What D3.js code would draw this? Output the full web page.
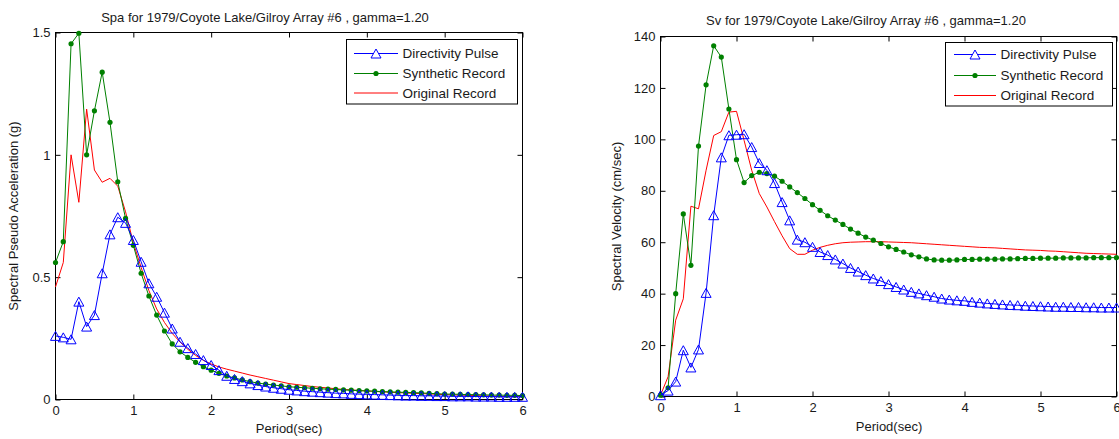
<!DOCTYPE html>
<html>
<head>
<meta charset="utf-8">
<script src="https://cdn.jsdelivr.net/npm/d3@7"></script>
<style>
  html, body { margin: 0; padding: 0; background: #fff; }
  svg { display: block; }
  text { font-family: "Liberation Sans", Arial, Helvetica, sans-serif; fill: #1a1a1a; }
</style>
</head>
<body>
<svg id="fig" width="1119" height="439"></svg>
<script>
// Periods (sec) at which the spectra are sampled
const periods = [
  0.0,0.1,0.2,0.3,0.4,0.5,0.6,0.7,0.8,0.9,
  1.0,1.1,1.2,1.3,1.4,1.5,1.6,1.7,1.8,1.9,
  2.0,2.1,2.2,2.3,2.4,2.5,2.6,2.7,2.8,2.9,
  3.0,3.1,3.2,3.3,3.4,3.5,3.6,3.7,3.8,3.9,
  4.0,4.1,4.2,4.3,4.4,4.5,4.6,4.7,4.8,4.9,
  5.0,5.1,5.2,5.3,5.4,5.5,5.6,5.7,5.8,5.9,6.0
];

// Spectral pseudo acceleration (g)
const spaPulse = [
  0.26,0.254,0.246,0.40,0.298,0.345,0.516,0.675,0.745,0.722,
  0.652,0.563,0.475,0.42,0.355,0.29,0.236,0.21,0.186,0.161,
  0.141,0.12,0.097,0.084,0.075,0.066,0.059,0.053,0.048,0.044,
  0.040,0.037,0.034,0.032,0.030,0.028,0.026,0.025,0.023,0.022,
  0.021,0.020,0.019,0.018,0.017,0.016,0.016,0.015,0.015,0.014,
  0.014,0.013,0.013,0.013,0.012,0.012,0.012,0.011,0.011,0.011,0.011
];
const spaSynthetic = [
  0.56,0.645,1.454,1.497,1.0,1.18,1.338,1.133,0.89,0.74,
  0.63,0.516,0.423,0.345,0.28,0.227,0.195,0.172,0.152,0.134,
  0.12,0.107,0.096,0.088,0.08,0.073,0.067,0.063,0.059,0.056,
  0.052,0.050,0.048,0.046,0.044,0.042,0.041,0.039,0.038,0.036,
  0.035,0.034,0.032,0.031,0.030,0.029,0.028,0.027,0.025,0.024,
  0.022,0.022,0.021,0.020,0.020,0.019,0.018,0.018,0.017,0.017,0.016
];
const spaOriginal = [
  0.46,0.56,1.0,0.806,1.187,0.938,0.888,0.904,0.872,0.767,
  0.64,0.54,0.445,0.37,0.315,0.27,0.235,0.205,0.18,0.16,
  0.145,0.133,0.124,0.116,0.108,0.1,0.093,0.086,0.079,0.072,
  0.065,0.061,0.057,0.053,0.050,0.047,0.044,0.041,0.039,0.037,
  0.035,0.033,0.031,0.030,0.028,0.027,0.025,0.024,0.023,0.021,
  0.020,0.019,0.018,0.017,0.016,0.015,0.014,0.013,0.012,0.012,0.011
];

// Spectral velocity (cm/sec)
const svPulse = [
  0.5,2.3,5.8,18,11.3,18.3,40.3,70.5,93,101.6,
  101.8,102,97,90.8,88,83,75.6,68.5,61,60,
  58.2,56.2,55,53.3,51.7,50,48.6,47.2,45.9,44.9,
  43.7,42.6,41.6,40.7,40.1,39.4,38.8,38.1,37.7,37.4,
  37.2,36.8,36.5,36.2,36,35.8,35.6,35.5,35.3,35.2,
  35.1,35,34.9,34.9,34.8,34.8,34.7,34.7,34.6,34.6,34.6
];
const svSynthetic = [
  0.5,3.4,40,71,51,97.4,121.2,136.4,132,111.8,
  92.1,83.2,85.9,87.2,86.7,85.7,83.7,81.5,79.3,77,
  74.6,72.4,70.3,68.6,66.9,65.1,63.5,62,60.8,59.5,
  58.2,57.2,56.2,55.1,54.3,53.5,53.1,53.0,53.0,53.1,
  53.3,53.3,53.4,53.4,53.4,53.5,53.5,53.6,53.7,53.7,
  53.8,53.8,53.8,53.9,53.9,53.9,53.9,54,54,54,54
];
const svOriginal = [
  0.5,7.7,29.7,38,74,73,88,101.5,103,110.6,
  110.9,99.6,88,78.9,73.7,68,62.5,57.5,55.3,55.3,
  56.9,58,58.8,59.4,59.8,60,60.1,60.2,60.2,60.2,
  60.1,60,59.9,59.8,59.6,59.4,59.2,59,58.8,58.6,
  58.4,58.2,58,57.9,57.8,57.6,57.4,57.2,57,56.9,
  56.8,56.6,56.5,56.3,56.1,55.9,55.7,55.6,55.5,55.4,55.3
];

const xTicks = [0,1,2,3,4,5,6];
const spaTicks = [0,0.5,1,1.5];
const spaTickLabels = ["0","0.5","1","1.5"];
const svTicks = [0,20,40,60,80,100,120,140];
const svTickLabels = ["0","20","40","60","80","100","120","140"];
const seriesNames = ["Directivity Pulse","Synthetic Record","Original Record"];
const seriesColors = ["#0000ff","#008000","#ff0000"];

const svg = d3.select("#fig");
const triPath = "M0,-4.5L5,4.5L-5,4.5Z";

function panel(o) {
  const x = d3.scaleLinear().domain([0, 6]).range([o.left, o.right]);
  const y = d3.scaleLinear().domain(o.yDomain).range([o.bottom, o.top]);
  const g = svg.append("g");
  const tick = 5;

  // box
  g.append("rect")
    .attr("x", o.left).attr("y", o.top)
    .attr("width", o.right - o.left).attr("height", o.bottom - o.top)
    .attr("fill", "none").attr("stroke", "#000").attr("stroke-width", 1);

  // inward ticks on all four sides
  const axB = d3.axisBottom(x).tickValues(xTicks).tickSize(-tick).tickPadding(6).tickFormat(d3.format("d"));
  const axT = d3.axisTop(x).tickValues(xTicks).tickSize(-tick).tickFormat("");
  const axL = d3.axisLeft(y).tickValues(o.yTicks).tickSize(-tick).tickPadding(5)
    .tickFormat((d, i) => o.yTickLabels[i]);
  const axR = d3.axisRight(y).tickValues(o.yTicks).tickSize(-tick).tickFormat("");
  [[axB, `translate(0,${o.bottom})`], [axT, `translate(0,${o.top})`],
   [axL, `translate(${o.left},0)`], [axR, `translate(${o.right},0)`]].forEach(([ax, tr]) => {
    const a = g.append("g").attr("transform", tr).call(ax);
    a.select(".domain").remove();
    a.selectAll("line").attr("stroke", "#000");
    a.selectAll("text").attr("font-size", 13).attr("fill", "#1a1a1a")
      .style("font-family", "'Liberation Sans', Arial, sans-serif");
  });

  const line = d3.line().x((d, i) => x(periods[i])).y(d => y(d));
  const series = [o.pulse, o.synthetic, o.original];

  // original record: plain line
  g.append("path").datum(series[2]).attr("d", line)
    .attr("fill", "none").attr("stroke", seriesColors[2]).attr("stroke-width", 1);
  // synthetic record: line with dots
  g.append("path").datum(series[1]).attr("d", line)
    .attr("fill", "none").attr("stroke", seriesColors[1]).attr("stroke-width", 1);
  g.append("g").selectAll("circle").data(series[1]).join("circle")
    .attr("cx", (d, i) => x(periods[i])).attr("cy", d => y(d)).attr("r", 2.6)
    .attr("fill", seriesColors[1]);
  // directivity pulse: line with open triangles
  g.append("path").datum(series[0]).attr("d", line)
    .attr("fill", "none").attr("stroke", seriesColors[0]).attr("stroke-width", 1);
  g.append("g").selectAll("path").data(series[0]).join("path")
    .attr("d", triPath)
    .attr("transform", (d, i) => `translate(${x(periods[i])},${y(d)})`)
    .attr("fill", "none").attr("stroke", seriesColors[0]).attr("stroke-width", 1);

  // labels
  g.append("text").attr("x", o.titleX).attr("y", o.titleY).attr("text-anchor", "middle")
    .attr("font-size", 13).text(o.title);
  g.append("text").attr("x", o.xLabelX).attr("y", o.xLabelY).attr("text-anchor", "middle")
    .attr("font-size", 13).text("Period(sec)");
  g.append("text").attr("transform", `translate(${o.yLabelX},${(o.top + o.bottom) / 2}) rotate(-90)`)
    .attr("text-anchor", "middle").attr("font-size", 13).text(o.yLabel);

  // legend
  const L = o.legend;
  const lg = g.append("g");
  lg.append("rect").attr("x", L.x).attr("y", L.y).attr("width", L.w).attr("height", L.h)
    .attr("fill", "#fff").attr("stroke", "#000").attr("stroke-width", 1);
  seriesNames.forEach((name, i) => {
    const ly = L.rows[i];
    lg.append("line").attr("x1", L.lx1).attr("x2", L.lx2).attr("y1", ly).attr("y2", ly)
      .attr("stroke", seriesColors[i]).attr("stroke-width", 1);
    const mx = (L.lx1 + L.lx2) / 2;
    if (i === 0) {
      lg.append("path").attr("d", triPath).attr("transform", `translate(${mx},${ly})`)
        .attr("fill", "#fff").attr("stroke", seriesColors[0]).attr("stroke-width", 1);
    } else if (i === 1) {
      lg.append("circle").attr("cx", mx).attr("cy", ly).attr("r", 2.6).attr("fill", seriesColors[1]);
    }
    lg.append("text").attr("x", L.tx).attr("y", ly).attr("dy", "0.36em")
      .attr("font-size", 13.5).text(name);
  });
}

panel({
  left: 55.5, right: 522.5, top: 32.5, bottom: 399.5,
  yDomain: [0, 1.5], yTicks: spaTicks, yTickLabels: spaTickLabels,
  pulse: spaPulse, synthetic: spaSynthetic, original: spaOriginal,
  title: "Spa for 1979/Coyote Lake/Gilroy Array #6 , gamma=1.20",
  titleX: 265, titleY: 22,
  xLabelX: 289, xLabelY: 433,
  yLabel: "Spectral Pseudo Acceleration (g)", yLabelX: 18,
  legend: { x: 346.5, y: 39.5, w: 171, h: 64.5, rows: [53.5, 73.5, 93],
            lx1: 354, lx2: 398, tx: 402.5 }
});

panel({
  left: 660.5, right: 1116.5, top: 36.5, bottom: 396.5,
  yDomain: [0, 140], yTicks: svTicks, yTickLabels: svTickLabels,
  pulse: svPulse, synthetic: svSynthetic, original: svOriginal,
  title: "Sv for 1979/Coyote Lake/Gilroy Array #6 , gamma=1.20",
  titleX: 866, titleY: 24.5,
  xLabelX: 889, xLabelY: 431,
  yLabel: "Spectral Velocity (cm/sec)", yLabelX: 621,
  legend: { x: 945.5, y: 42.5, w: 167, h: 63.5, rows: [54.5, 75.5, 95.5],
            lx1: 954, lx2: 996, tx: 1000.5 }
});
</script>
</body>
</html>
